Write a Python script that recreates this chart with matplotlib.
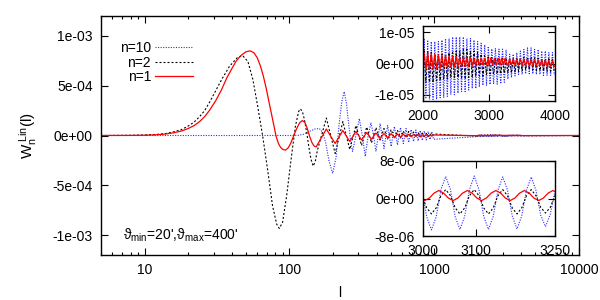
import matplotlib
matplotlib.use("Agg")
import matplotlib.pyplot as plt
import numpy as np

plt.rcParams['font.family'] = ['Liberation Sans', 'DejaVu Sans']
plt.rcParams['mathtext.fontset'] = 'custom'
plt.rcParams['mathtext.rm'] = 'Liberation Sans'
plt.rcParams['mathtext.it'] = 'Liberation Sans:italic'
plt.rcParams['font.size'] = 10

# ---------------- data ----------------
# main range, W in units of 1e-4
l_n1 = [5, 8, 10, 12, 14, 16, 18, 20, 22, 24, 26, 28, 31, 34, 37, 40, 43, 46, 50, 53.6,
        57, 60, 63, 66, 69, 72, 75, 78, 81, 84, 87, 90, 94, 98, 102, 106, 110, 114, 118,
        123, 128, 133, 138, 143, 148, 153]
w_n1 = [0, 0.01, 0.03, 0.07, 0.15, 0.28, 0.45, 0.7, 1.0, 1.4, 1.9, 2.5, 3.5, 4.6, 5.8, 6.7,
        7.5, 8.0, 8.4, 8.5, 8.3, 7.8, 7.0, 6.0, 4.8, 3.5, 2.2, 1.0, -0.1, -0.8, -1.2, -1.4,
        -1.47, -1.25, -0.8, -0.2, 0.4, 0.9, 1.3, 1.5, 1.3, 0.7, -0.1, -0.7, -1.05, -1.15]

l_n2 = [5, 8, 10, 12, 14, 16, 18, 20, 22, 24, 26, 28, 31, 34, 38.5, 44, 47.7, 51.7, 56,
        60.4, 65.4, 70.7, 76.5, 81.7, 85.1, 89.7, 95.7, 102.7, 110, 116, 119, 123, 127,
        132, 136, 141, 146, 151, 156]
w_n2 = [0, 0.02, 0.05, 0.1, 0.2, 0.38, 0.6, 0.95, 1.35, 1.9, 2.5, 3.3, 4.5, 5.6, 6.93,
        7.87, 8.0, 7.43, 5.6, 2.93, -0.07, -3.4, -7.07, -8.9, -9.33, -8.73, -6.07, -2.4,
        0.93, 2.43, 2.67, 2.4, 1.6, 0.2, -1.07, -2.4, -3.07, -2.6, -1.5]

l_n10 = [5, 100, 115, 125, 138, 150, 161, 170, 178, 188, 199, 210, 220, 230, 239, 248,
         256, 265, 273, 288, 304, 319, 334, 350, 366, 381, 396]
w_n10 = [0, 0, 0.02, 0.12, 0.43, 0.65, 0.7, 0.3, -0.7, -2.6, -3.8, -2.2, 1.0, 3.4, 4.4,
         3.2, 1.3, -0.6, -1.6, 0, 1.7, 0, -2.1, 0, 1.3, 0, -1.6]

# extrema of the fast oscillation, W in 1e-4
l_osc = [180, 207, 234, 261, 288, 315, 342, 369, 396, 423, 450, 477, 504, 531, 558, 585,
         612, 639, 666, 693, 720, 747, 774, 801, 828, 855, 882, 909, 936, 963, 990]
osc_n1 = [0.65, -0.8, 0.5, -0.6, 0.4, -0.45, 0.3, -0.38, 0.25, -0.3, 0.2, -0.25, 0.18, -0.2,
          0.15, -0.17, 0.13, -0.14, 0.11, -0.12, 0.1, -0.1, 0.08, -0.09, 0.07, -0.08, 0.06,
          -0.07, 0.05, -0.06, 0.05]
osc_n2 = [1.75, -1.8, 1.4, -1.4, 1.0, -1.0, 0.85, -0.75, 0.8, -0.45, 0.7, -0.35, 0.6, -0.3,
          0.5, -0.25, 0.45, -0.2, 0.4, -0.18, 0.35, -0.15, 0.3, -0.14, 0.25, -0.12, 0.2,
          -0.1, 0.17, -0.09, 0.15]
osc_n10 = [1.2, -1.3, 1.0, -1.1, 0.9, -0.95, 0.8, -0.8, 0.7, -0.7, 0.6, -0.6, 0.55, -0.55,
           0.5, -0.5, 0.45, -0.45, 0.4, -0.4, 0.38, -0.38]   # from l=423

# inset range 2000-4000, W in units of 1e-6
l_in_a = [1990, 2017, 2044, 2071, 2098, 2125, 2152, 2179, 2206, 2233, 2260, 2287, 2314,
          2341, 2368, 2395, 2422, 2449, 2476, 2503, 2530, 2557, 2584, 2611, 2638, 2665,
          2692, 2719, 2746, 2773, 2800, 2827, 2854, 2881, 2908, 2935, 2962, 2989]
l_in_b = [3286, 3313, 3340, 3367, 3394, 3421, 3448, 3475, 3502, 3529, 3556, 3583, 3610,
          3637, 3664, 3691, 3718, 3745, 3772, 3799, 3826, 3853, 3880, 3907, 3934, 3961, 3988]
l_fine = [2998, 3007, 3016, 3025, 3034, 3043, 3052, 3061, 3070, 3079, 3088, 3097, 3106,
          3115, 3124, 3133, 3142, 3151, 3160, 3169, 3178, 3187, 3196, 3205, 3214, 3223,
          3232, 3241, 3250, 3259]
l_fine_n1 = [2994, 3003, 3012, 3021, 3030, 3039, 3048, 3057, 3066, 3075, 3084, 3093, 3102,
             3111, 3120, 3129, 3138, 3147, 3156, 3165, 3174, 3183, 3192, 3201, 3210, 3219,
             3228, 3237, 3246, 3255, 3264]

in_a_n1 = [-2.0, 3.5, -2.0, 3.3, -1.9, 3.2, -1.8, 3.0, -1.7, 2.8, -1.6, 2.7, -1.5, 2.5,
           -1.4, 2.4, -1.3, 2.3, -1.2, 2.2, -1.1, 2.0, -1.0, 2.0, -1.0, 1.9, -0.9, 1.8,
           -0.8, 1.8, -0.7, 1.7, -0.6, 1.7, -0.5, 1.6, -0.5, 1.6]
fine_n1 = [0.1, -0.45, 0.1, 1.15, 1.7, 1.15, 0.1, -0.45, 0.1, 1.15, 1.7, 1.15, 0.1, -0.45,
           0.1, 1.15, 1.7, 1.15, 0.1, -0.45, 0.1, 1.15, 1.7, 1.15, 0.1, -0.45, 0.1, 1.15,
           1.7, 1.15, 0.1]
in_b_n1 = [-0.5, 1.5, -0.5, 1.5, -0.6, 1.4, -0.6, 1.4, -0.7, 1.3, -0.7, 1.3, -0.8, 1.2,
           -0.8, 1.2, -0.8, 1.1, -0.8, 1.1, -0.9, 1.0, -0.9, 1.0, -0.9, 0.9, -0.9]

in_a_n2 = [-6, 4, -6, 4, -6, 3.5, -6, 3, -5.5, 3, -5.5, 3, -5, 3, -5, 3.5, -4.5, 3.5, -4.5,
           4, -4.5, 4, -4.5, 4.5, -4.5, 4.5, -4.5, 4, -4.5, 4, -4, 3.5, -4, 3, -4, 2.5,
           -3.5, 2.5]
fine_n2 = [0.6, -2.0, -3.3, -2.0, 0.6, 1.9, 0.6, -2.0, -3.3, -2.0, 0.6, 1.9, 0.6, -2.0,
           -3.3, -2.0, 0.6, 1.9, 0.6, -2.0, -3.3, -2.0, 0.6, 1.9, 0.6, -1.9, -3.1, -1.9,
           0.6, 1.8]
in_b_n2 = [-3, 1.5, -3, 1.5, -2.8, 1.7, -2.5, 1.8, -2.3, 2, -2, 2, -2, 2, -2, 1.8, -2.2,
           1.7, -2.3, 1.5, -2.5, 1.5, -2.5, 1.5, -2.5, 1.5, -2.5]

in_a_n10 = [-11, 8, -11, 7.5, -11.5, 7, -11.5, 7, -11.5, 7, -11, 7.5, -11, 8, -10.5, 8,
            -10, 8.5, -10, 8.5, -9.5, 8.5, -9, 8.5, -9, 8, -8.5, 8, -8, 7.5, -8, 7, -7.5,
            6.5, -7, 6, -7, 5.5]
fine_n10 = [1.9, -3.9, -6.7, -3.9, 1.9, 4.7, 1.9, -3.9, -6.6, -3.8, 1.9, 4.8, 1.9, -3.8,
            -6.6, -3.8, 1.8, 4.6, 1.8, -3.7, -6.5, -3.7, 1.8, 4.6, 1.7, -3.6, -6.0, -3.4,
            1.6, 4.4]
in_b_n10 = [-5, 3, -4.5, 3, -4, 3.5, -3.5, 4, -3.5, 4.5, -3.3, 5, -3.3, 5, -3.3, 4.5, -3.5,
            4.5, -3.5, 4, -3.8, 4, -3.8, 3.5, -3.8, 3.5, -3.5]

labels = ['n=10', 'n=2', 'n=1']


def series(l_main, w_main, l_o, w_o, fine_l, a, f, b):
    l = list(l_main) + list(l_o) + l_in_a + list(fine_l) + l_in_b + [10000]
    w = ([v * 1e-4 for v in w_main] + [v * 1e-4 for v in w_o]
         + [v * 1e-6 for v in a + f + b] + [0])
    return np.array(l), np.array(w)


curves = {
    'n=10': series(l_n10, w_n10, l_osc[9:], osc_n10, l_fine, in_a_n10, fine_n10, in_b_n10),
    'n=2': series(l_n2, w_n2, l_osc, osc_n2, l_fine, in_a_n2, fine_n2, in_b_n2),
    'n=1': series(l_n1, w_n1, l_osc, osc_n1, l_fine_n1, in_a_n1, fine_n1, in_b_n1),
}
styles = {
    'n=10': dict(color='#2a2aff', ls=(0, (1, 1.3)), lw=0.8),
    'n=2': dict(color='black', ls=(0, (1.8, 1.8)), lw=0.8),
    'n=1': dict(color='#ff0000', ls='-', lw=0.9),
}

fig = plt.figure(figsize=(6, 3), dpi=100)
ax = fig.add_axes([101/600, 45/300, 478/600, 239/300])
ins1 = fig.add_axes([423/600, 199/300, 132/600, 75/300])
ins2 = fig.add_axes([423/600, 64/300, 132/600, 75/300])

for a in (ax, ins1, ins2):
    for name in labels:
        l, w = curves[name]
        a.plot(l, w, label=name, **styles[name])
    a.tick_params(which='both', direction='in', top=True, right=True, labelsize=10, width=0.8)
    a.tick_params(which='major', length=5, pad=6)
    a.tick_params(which='minor', length=2.5)
    for s in a.spines.values():
        s.set_linewidth(1.0)

# main axes
ax.set_xscale('log')
ax.set_xlim(5, 10000)
ax.set_ylim(-1.2e-3, 1.2e-3)
ax.set_xticks([10, 100, 1000, 10000])
ax.set_xticklabels(['10', '100', '1000', '10000'])
ax.set_yticks([-1e-3, -5e-4, 0, 5e-4, 1e-3])
ax.set_yticklabels(['-1e-03', '-5e-04', '0e+00', '5e-04', '1e-03'])
ax.set_xlabel('l', labelpad=6)
ax.set_ylabel(r'$\mathrm{W_n^{\ Lin}(l)}$', fontsize=11, labelpad=10)
ax.text(0.046, 0.063, "ϑ$_{\\rm min}$=20',ϑ$_{\\rm max}$=400'", transform=ax.transAxes,
        va='baseline', ha='left', fontsize=10)
ax.legend(loc='upper left', bbox_to_anchor=(0.025, 0.925), frameon=False, markerfirst=False,
          handlelength=2.7, handletextpad=0.3, labelspacing=0.05, borderpad=0, fontsize=10)

# inset 2000-4000
ins1.set_xlim(2000, 4000)
ins1.set_ylim(-1.2e-5, 1.2e-5)
ins1.set_xticks([2000, 3000, 4000])
ins1.set_xticklabels(['2000', '3000', '4000'])
ins1.set_yticks([-1e-5, 0, 1e-5])
ins1.set_yticklabels(['-1e-05', '0e+00', '1e-05'])

# inset 3000-3250
ins2.set_xlim(3000, 3250)
ins2.set_ylim(-8e-6, 8e-6)
ins2.set_xticks([3000, 3100, 3250])
ins2.set_xticklabels(['3000', '3100', '3250'])
ins2.set_yticks([-8e-6, 0, 8e-6])
ins2.set_yticklabels(['-8e-06', '0e+00', '8e-06'])

fig.savefig('out.png', dpi=100)
